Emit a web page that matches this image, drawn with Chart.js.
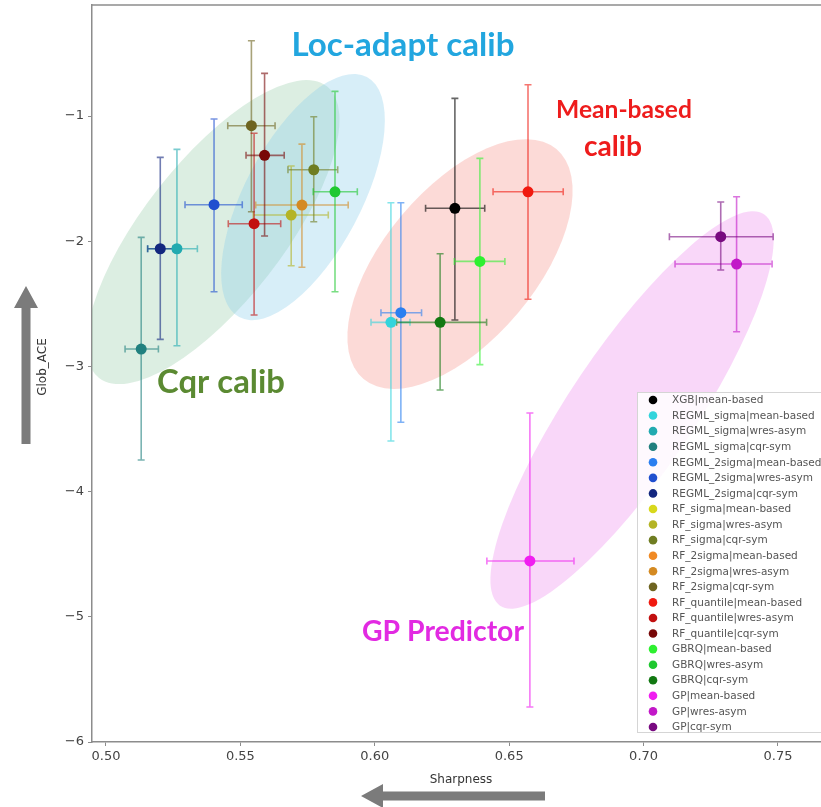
<!DOCTYPE html>
<html>
<head>
<meta charset="utf-8">
<script src="https://cdn.jsdelivr.net/npm/chart.js@4.4.1/dist/chart.umd.min.js"></script>
<style>
  html, body { margin: 0; padding: 0; background: #fff; }
  #wrap { width: 821px; height: 807px; }
</style>
</head>
<body>
<div id="wrap"><canvas id="chart" width="821" height="807"></canvas></div>
<script>
// Series labels (model | calibration)
const labels = [
    'XGB|mean-based',
    'REGML_sigma|mean-based', 'REGML_sigma|wres-asym', 'REGML_sigma|cqr-sym',
    'REGML_2sigma|mean-based', 'REGML_2sigma|wres-asym', 'REGML_2sigma|cqr-sym',
    'RF_sigma|mean-based', 'RF_sigma|wres-asym', 'RF_sigma|cqr-sym',
    'RF_2sigma|mean-based', 'RF_2sigma|wres-asym', 'RF_2sigma|cqr-sym',
    'RF_quantile|mean-based', 'RF_quantile|wres-asym', 'RF_quantile|cqr-sym',
    'GBRQ|mean-based', 'GBRQ|wres-asym', 'GBRQ|cqr-sym',
    'GP|mean-based', 'GP|wres-asym', 'GP|cqr-sym'
];

// Values (null = not visible in the plot)
const sharpness = [0.6298, 0.6060, 0.5264, 0.5131, 0.6097, 0.5402, 0.5202, null, 0.5689, 0.5773, null, 0.5729, 0.5541, 0.6570, 0.5551, 0.5590, 0.6391, 0.5852, 0.6243, 0.6577, 0.7346, 0.7287];
const sharpLow  = [0.6189, 0.5986, 0.5155, 0.5071, 0.6023, 0.5294, 0.5155, null, 0.5548, 0.5677, null, 0.5557, 0.5453, 0.6440, 0.5455, 0.5521, 0.6296, 0.5771, 0.6081, 0.6417, 0.7117, 0.7096];
const sharpHigh = [0.6409, 0.6131, 0.5340, 0.5195, 0.6174, 0.5507, 0.5250, null, 0.5827, 0.5862, null, 0.5901, 0.5629, 0.6701, 0.5650, 0.5663, 0.6484, 0.5935, 0.6416, 0.6741, 0.7478, 0.7482];
const globAce   = [-1.737, -2.648, -2.060, -2.861, -2.571, -1.708, -2.060, null, -1.791, -1.429, null, -1.711, -1.077, -1.605, -1.860, -1.314, -2.161, -1.605, -2.648, -4.554, -2.182, -1.964];
const aceLow    = [-2.629, -3.596, -2.835, -3.748, -3.446, -2.403, -2.784, null, -2.196, -1.844, null, -2.208, -1.764, -2.464, -2.589, -1.958, -2.986, -2.403, -3.188, -5.720, -2.723, -2.230];
const aceHigh   = [-0.859, -1.692, -1.266, -1.969, -1.692, -1.024, -1.330, null, -1.399, -1.006, null, -1.224, -0.399, -0.750, -1.138, -0.659, -1.338, -0.803, -2.100, -3.372, -1.645, -1.687];

const xTicks = [0.50, 0.55, 0.60, 0.65, 0.70, 0.75];
const yTicks = [-6, -5, -4, -3, -2, -1];

const colors = [
    '#000000',
    '#33d4dc', '#22aab0', '#21807f',
    '#2a7ff0', '#1f4fcf', '#13277f',
    '#d8d81c', '#b4b425', '#6f7d22',
    '#f08a24', '#d48a22', '#6e6420',
    '#f01a10', '#c21010', '#780808',
    '#2ef030', '#1fc830', '#127812',
    '#f01ef0', '#c218c8', '#780a80'
];

// Shaded groups: centre in data units, radii in px, angle in degrees
const groups = [
    { cx: 0.5398, cy: -1.927, rx: 185, ry: 70, angle: -52, fill: 'rgba(140, 200, 160, 0.30)' },
    { cx: 0.5733, cy: -1.647, rx: 136, ry: 58, angle: -62, fill: 'rgba(140, 205, 235, 0.35)' },
    { cx: 0.6317, cy: -2.182, rx: 150, ry: 76, angle: -50, fill: 'rgba(245, 150, 140, 0.35)' },
    { cx: 0.6957, cy: -3.348, rx: 236, ry: 62, angle: -56, fill: 'rgba(235, 130, 235, 0.32)' }
];

const notes = [
    { text: 'Loc-adapt calib', x: 403, y: 45, w: 223, color: '#22a6df' },
    { text: 'Mean-based', x: 624, y: 110, w: 136, color: '#ee1c1c' },
    { text: 'calib', x: 613, y: 147, w: 58, color: '#ee1c1c' },
    { text: 'Cqr calib', x: 221, y: 382, w: 128, color: '#5b8a32' },
    { text: 'GP Predictor', x: 443, y: 632, w: 162, color: '#e22ae2' }
];

function withAlpha(hex, a) {
    const n = parseInt(hex.slice(1), 16);
    return `rgba(${(n >> 16) & 255}, ${(n >> 8) & 255}, ${n & 255}, ${a})`;
}

const datasets = labels.map((label, i) => ({
    label: label,
    data: sharpness[i] == null ? [] : [{ x: sharpness[i], y: globAce[i] }],
    backgroundColor: colors[i],
    borderColor: colors[i],
    pointRadius: 5.5,
    pointBorderWidth: 0,
    errIndex: i
}));

// Ellipses behind everything
const ellipsePlugin = {
    id: 'ellipses',
    beforeDatasetsDraw(chart) {
        const { ctx, scales: { x, y }, chartArea } = chart;
        ctx.save();
        ctx.beginPath();
        ctx.rect(chartArea.left, chartArea.top, chartArea.right - chartArea.left, chartArea.bottom - chartArea.top);
        ctx.clip();
        groups.forEach(g => {
            ctx.beginPath();
            ctx.ellipse(x.getPixelForValue(g.cx), y.getPixelForValue(g.cy), g.rx, g.ry, g.angle * Math.PI / 180, 0, Math.PI * 2);
            ctx.fillStyle = g.fill;
            ctx.fill();
        });
        ctx.restore();
    }
};

// Error bars from the data arrays
const errorBarPlugin = {
    id: 'errorBars',
    beforeDatasetsDraw(chart) {
        const { ctx, scales: { x, y } } = chart;
        const cap = 3.5;
        ctx.save();
        ctx.lineWidth = 1.6;
        chart.data.datasets.forEach(ds => {
            const i = ds.errIndex;
            if (sharpness[i] == null) return;
            const px = x.getPixelForValue(sharpness[i]);
            const py = y.getPixelForValue(globAce[i]);
            const x0 = x.getPixelForValue(sharpLow[i]);
            const x1 = x.getPixelForValue(sharpHigh[i]);
            const y0 = y.getPixelForValue(aceLow[i]);
            const y1 = y.getPixelForValue(aceHigh[i]);
            ctx.strokeStyle = withAlpha(colors[i], 0.6);
            ctx.beginPath();
            ctx.moveTo(px, y0); ctx.lineTo(px, y1);
            ctx.moveTo(px - cap, y0); ctx.lineTo(px + cap, y0);
            ctx.moveTo(px - cap, y1); ctx.lineTo(px + cap, y1);
            ctx.moveTo(x0, py); ctx.lineTo(x1, py);
            ctx.moveTo(x0, py - cap); ctx.lineTo(x0, py + cap);
            ctx.moveTo(x1, py - cap); ctx.lineTo(x1, py + cap);
            ctx.stroke();
        });
        ctx.restore();
    }
};

function drawArrow(ctx, x0, y0, x1, y1, shaft, head, headLen) {
    const ang = Math.atan2(y1 - y0, x1 - x0);
    const len = Math.hypot(x1 - x0, y1 - y0);
    ctx.save();
    ctx.translate(x0, y0);
    ctx.rotate(ang);
    ctx.fillStyle = '#7b7b7b';
    ctx.beginPath();
    ctx.moveTo(0, -shaft / 2);
    ctx.lineTo(len - headLen, -shaft / 2);
    ctx.lineTo(len - headLen, -head / 2);
    ctx.lineTo(len, 0);
    ctx.lineTo(len - headLen, head / 2);
    ctx.lineTo(len - headLen, shaft / 2);
    ctx.lineTo(0, shaft / 2);
    ctx.closePath();
    ctx.fill();
    ctx.restore();
}

// Frame, axis titles, arrows, group labels and legend
const overlayPlugin = {
    id: 'overlay',
    afterDraw(chart) {
        const { ctx, chartArea } = chart;
        ctx.save();

        // top spine
        ctx.strokeStyle = '#8c8c8c';
        ctx.lineWidth = 1.5;
        ctx.beginPath();
        ctx.moveTo(chartArea.left, chartArea.top);
        ctx.lineTo(chartArea.right, chartArea.top);
        ctx.stroke();

        // group labels
        notes.forEach(n => {
            ctx.font = 'bold 100px Lato';
            const w = ctx.measureText(n.text).width;
            const size = 100 * n.w / w;
            ctx.font = `bold ${size}px Lato`;
            ctx.fillStyle = n.color;
            ctx.textAlign = 'center';
            ctx.textBaseline = 'middle';
            ctx.fillText(n.text, n.x, n.y);
        });

        // axis titles and arrows
        ctx.fillStyle = '#333';
        ctx.font = '12px "DejaVu Sans"';
        ctx.textAlign = 'center';
        ctx.textBaseline = 'middle';
        ctx.fillText('Sharpness', 461, 780);
        ctx.save();
        ctx.translate(43, 367);
        ctx.rotate(-Math.PI / 2);
        ctx.fillText('Glob_ACE', 0, 0);
        ctx.restore();
        drawArrow(ctx, 545, 796, 361, 796, 9, 24, 22);
        drawArrow(ctx, 26, 444, 26, 286, 9, 24, 22);

        // legend box
        const lx = 637, ly = 392, lw = 200, lh = 340;
        ctx.fillStyle = 'rgba(255, 255, 255, 0.85)';
        ctx.strokeStyle = '#d5d5d5';
        ctx.lineWidth = 1;
        ctx.fillRect(lx, ly, lw, lh);
        ctx.strokeRect(lx + 0.5, ly + 0.5, lw, lh);
        ctx.font = '10.5px "DejaVu Sans"';
        ctx.textAlign = 'left';
        ctx.textBaseline = 'middle';
        chart.data.datasets.forEach((ds, i) => {
            const yy = 400 + i * 15.57;
            ctx.fillStyle = ds.backgroundColor;
            ctx.beginPath();
            ctx.arc(653, yy, 4.3, 0, Math.PI * 2);
            ctx.fill();
            ctx.fillStyle = '#555';
            ctx.fillText(ds.label, 672, yy + 0.5);
        });
        ctx.restore();
    }
};

const tickFont = { family: 'DejaVu Sans', size: 13 };
const minus = v => (v < 0 ? '\u2212' + Math.abs(v) : String(v));

new Chart(document.getElementById('chart'), {
    type: 'scatter',
    data: { datasets: datasets },
    options: {
        responsive: false,
        devicePixelRatio: 1,
        animation: false,
        layout: { autoPadding: false, padding: { top: 5, right: 0, left: 0, bottom: 0 } },
        plugins: {
            legend: { display: false },
            tooltip: { enabled: false }
        },
        scales: {
            x: {
                type: 'linear',
                min: 0.4948,
                max: 0.766,
                afterBuildTicks: s => { s.ticks = xTicks.map(v => ({ value: v })); },
                afterFit: s => { s.height = 65; s.paddingLeft = 0; s.paddingRight = 0; },
                grid: { drawOnChartArea: false, drawTicks: true, tickLength: 4, color: '#8c8c8c' },
                border: { display: true, color: '#8c8c8c', width: 1.5 },
                ticks: { font: tickFont, color: '#444', padding: 3, callback: v => v.toFixed(2) }
            },
            y: {
                type: 'linear',
                min: -6,
                max: -0.113,
                afterBuildTicks: s => { s.ticks = yTicks.map(v => ({ value: v })); },
                afterFit: s => { s.width = 92; s.paddingTop = 0; s.paddingBottom = 0; },
                grid: { drawOnChartArea: false, drawTicks: true, tickLength: 4, color: '#8c8c8c' },
                border: { display: true, color: '#8c8c8c', width: 1.5 },
                ticks: { font: tickFont, color: '#444', padding: 4, callback: v => minus(v) }
            }
        }
    },
    plugins: [ellipsePlugin, errorBarPlugin, overlayPlugin]
});
</script>
</body>
</html>
